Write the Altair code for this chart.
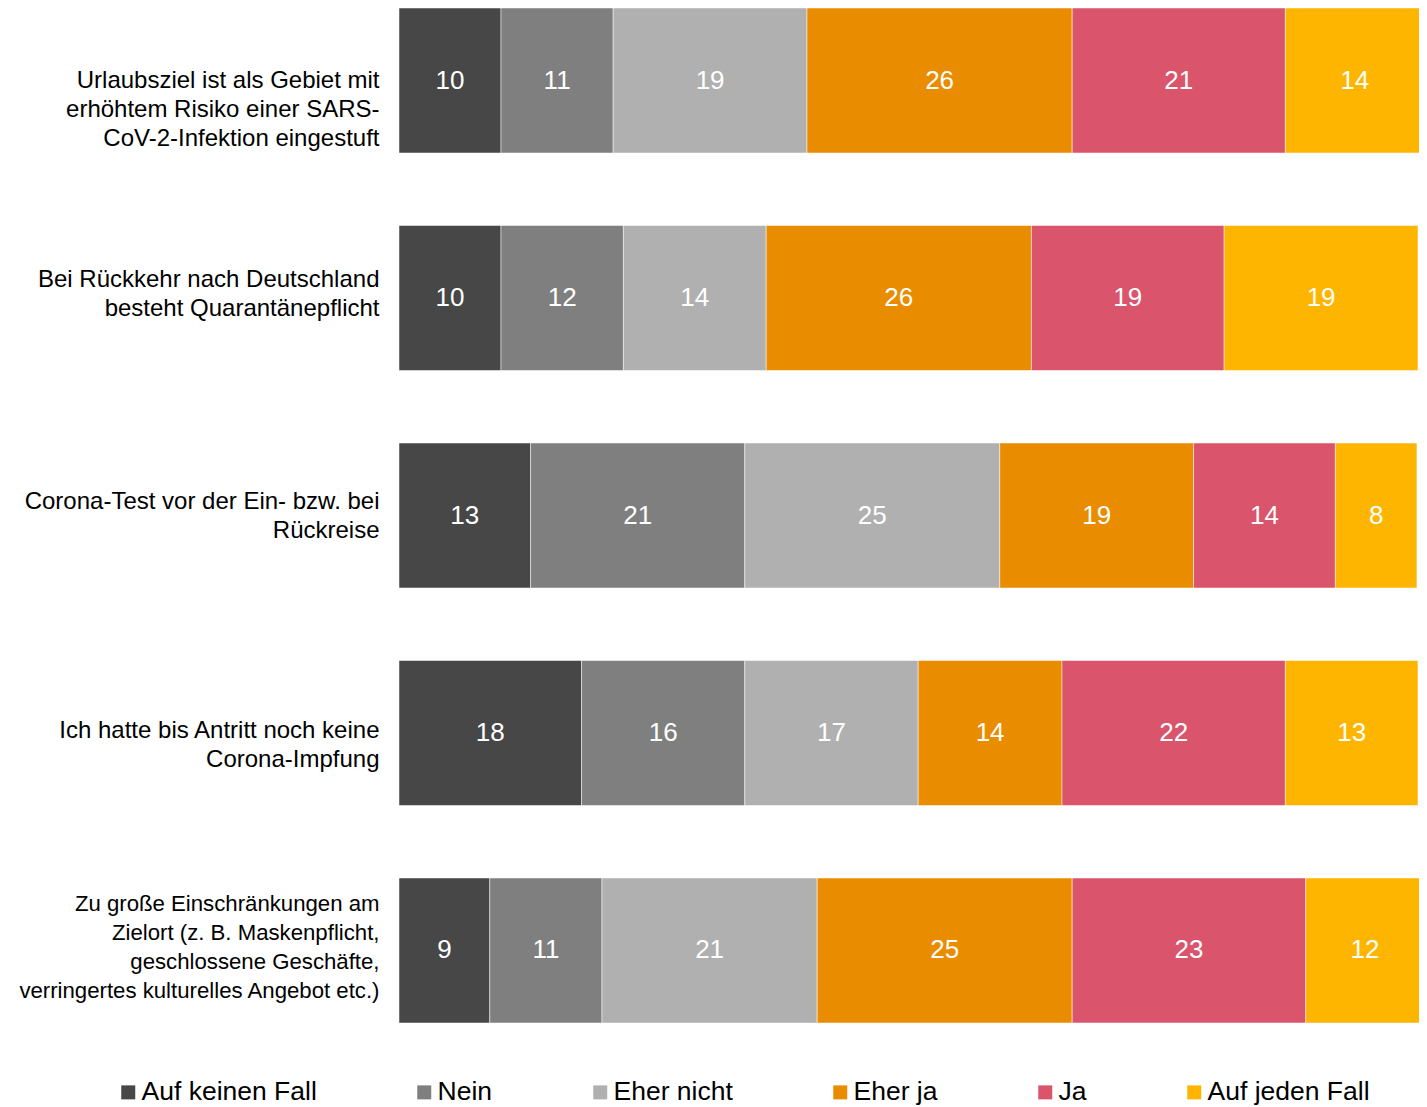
import altair as alt
import pandas as pd

# Categories (y axis); "|" separates label lines
categories = [
    "Urlaubsziel ist als Gebiet mit|erhöhtem Risiko einer SARS-|CoV-2-Infektion eingestuft",
    "Bei Rückkehr nach Deutschland|besteht Quarantänepflicht",
    "Corona-Test vor der Ein- bzw. bei|Rückreise",
    "Ich hatte bis Antritt noch keine|Corona-Impfung",
    "Zu große Einschränkungen am|Zielort (z. B. Maskenpflicht,|geschlossene Geschäfte,|verringertes kulturelles Angebot etc.)",
]

series = ["Auf keinen Fall", "Nein", "Eher nicht", "Eher ja", "Ja", "Auf jeden Fall"]
colors = ["#474747", "#7f7f7f", "#b0b0b0", "#ea8c00", "#da546b", "#feb500"]

# Values per series (percent), one per category
auf_keinen_fall = [10.0, 10.0, 12.9, 17.9, 8.9]
nein = [11.0, 12.0, 21.0, 16.0, 11.0]
eher_nicht = [19.0, 14.0, 25.0, 17.0, 21.1]
eher_ja = [26.0, 26.0, 19.0, 14.1, 25.0]
ja = [20.9, 18.9, 13.9, 21.9, 22.9]
auf_jeden_fall = [13.6, 19.0, 8.0, 13.0, 11.6]

values = [auf_keinen_fall, nein, eher_nicht, eher_ja, ja, auf_jeden_fall]

rows = []
for si, (s, vals) in enumerate(zip(series, values)):
    for c, v in zip(categories, vals):
        rows.append({"cat": c, "series": s, "order": si, "value": v})
df = pd.DataFrame(rows)

FONT = "Liberation Sans"


def starts(prefix):
    return "indexof(datum.value, '%s') == 0" % prefix


# vertical placement of the wrapped category labels, as in the original
label_offset = {
    "condition": [
        {"test": starts("Bei R"), "value": -18},
        {"test": starts("Corona-Test"), "value": -14},
        {"test": starts("Ich hatte"), "value": -2},
        {"test": starts("Zu gro"), "value": -46},
    ],
    "value": 0,
}
label_size = {"condition": {"test": starts("Zu gro"), "value": 22.2}, "value": 24}

base = alt.Chart(df).transform_stack(
    stack="value",
    groupby=["cat"],
    as_=["x0", "x1"],
    sort=[alt.SortField("order", order="ascending")],
).transform_calculate(xm="(datum.x0 + datum.x1) / 2")

yenc = alt.Y(
    "cat:N",
    sort=categories,
    scale=alt.Scale(paddingInner=0.3333, paddingOuter=0),
    axis=alt.Axis(
        title=None,
        domain=False,
        ticks=False,
        labelPadding=20,
        labelFont=FONT,
        labelFontSize=label_size,
        labelColor="black",
        labelLineHeight=29,
        labelLimit=600,
        labelAlign="right",
        labelOffset=label_offset,
        labelExpr="split(datum.label, '|')",
    ),
)

bars = base.mark_bar(stroke="white", strokeWidth=0.5).encode(
    y=yenc,
    x=alt.X("x0:Q", scale=alt.Scale(domain=[0, 100], nice=False), axis=None),
    x2="x1:Q",
    color=alt.Color(
        "series:N",
        sort=series,
        scale=alt.Scale(domain=series, range=colors),
        legend=alt.Legend(
            orient="none",
            legendX=-284,
            legendY=1071,
            direction="horizontal",
            title=None,
            symbolType="square",
            symbolSize=196,
            symbolStrokeWidth=0,
            labelFont=FONT,
            labelFontSize=26.5,
            labelColor="black",
            labelOffset=0,
            columnPadding=94,
            labelLimit=0,
            padding=0,
        ),
    ),
)

text = base.mark_text(color="white", font=FONT, fontSize=26).encode(
    y=alt.Y("cat:N", sort=categories),
    x=alt.X("xm:Q"),
    text=alt.Text("value:Q", format=".0f"),
)

chart = (
    alt.layer(bars, text)
    .properties(
        width=1020,
        height=1015,
        autosize=alt.AutoSizeParams(type="none"),
        padding={"left": 391, "top": 0, "right": 0, "bottom": 84},
        background="white",
    )
    .configure_view(stroke=None)
)

chart.save("out.html", embed_options={"renderer": "svg", "actions": False})
